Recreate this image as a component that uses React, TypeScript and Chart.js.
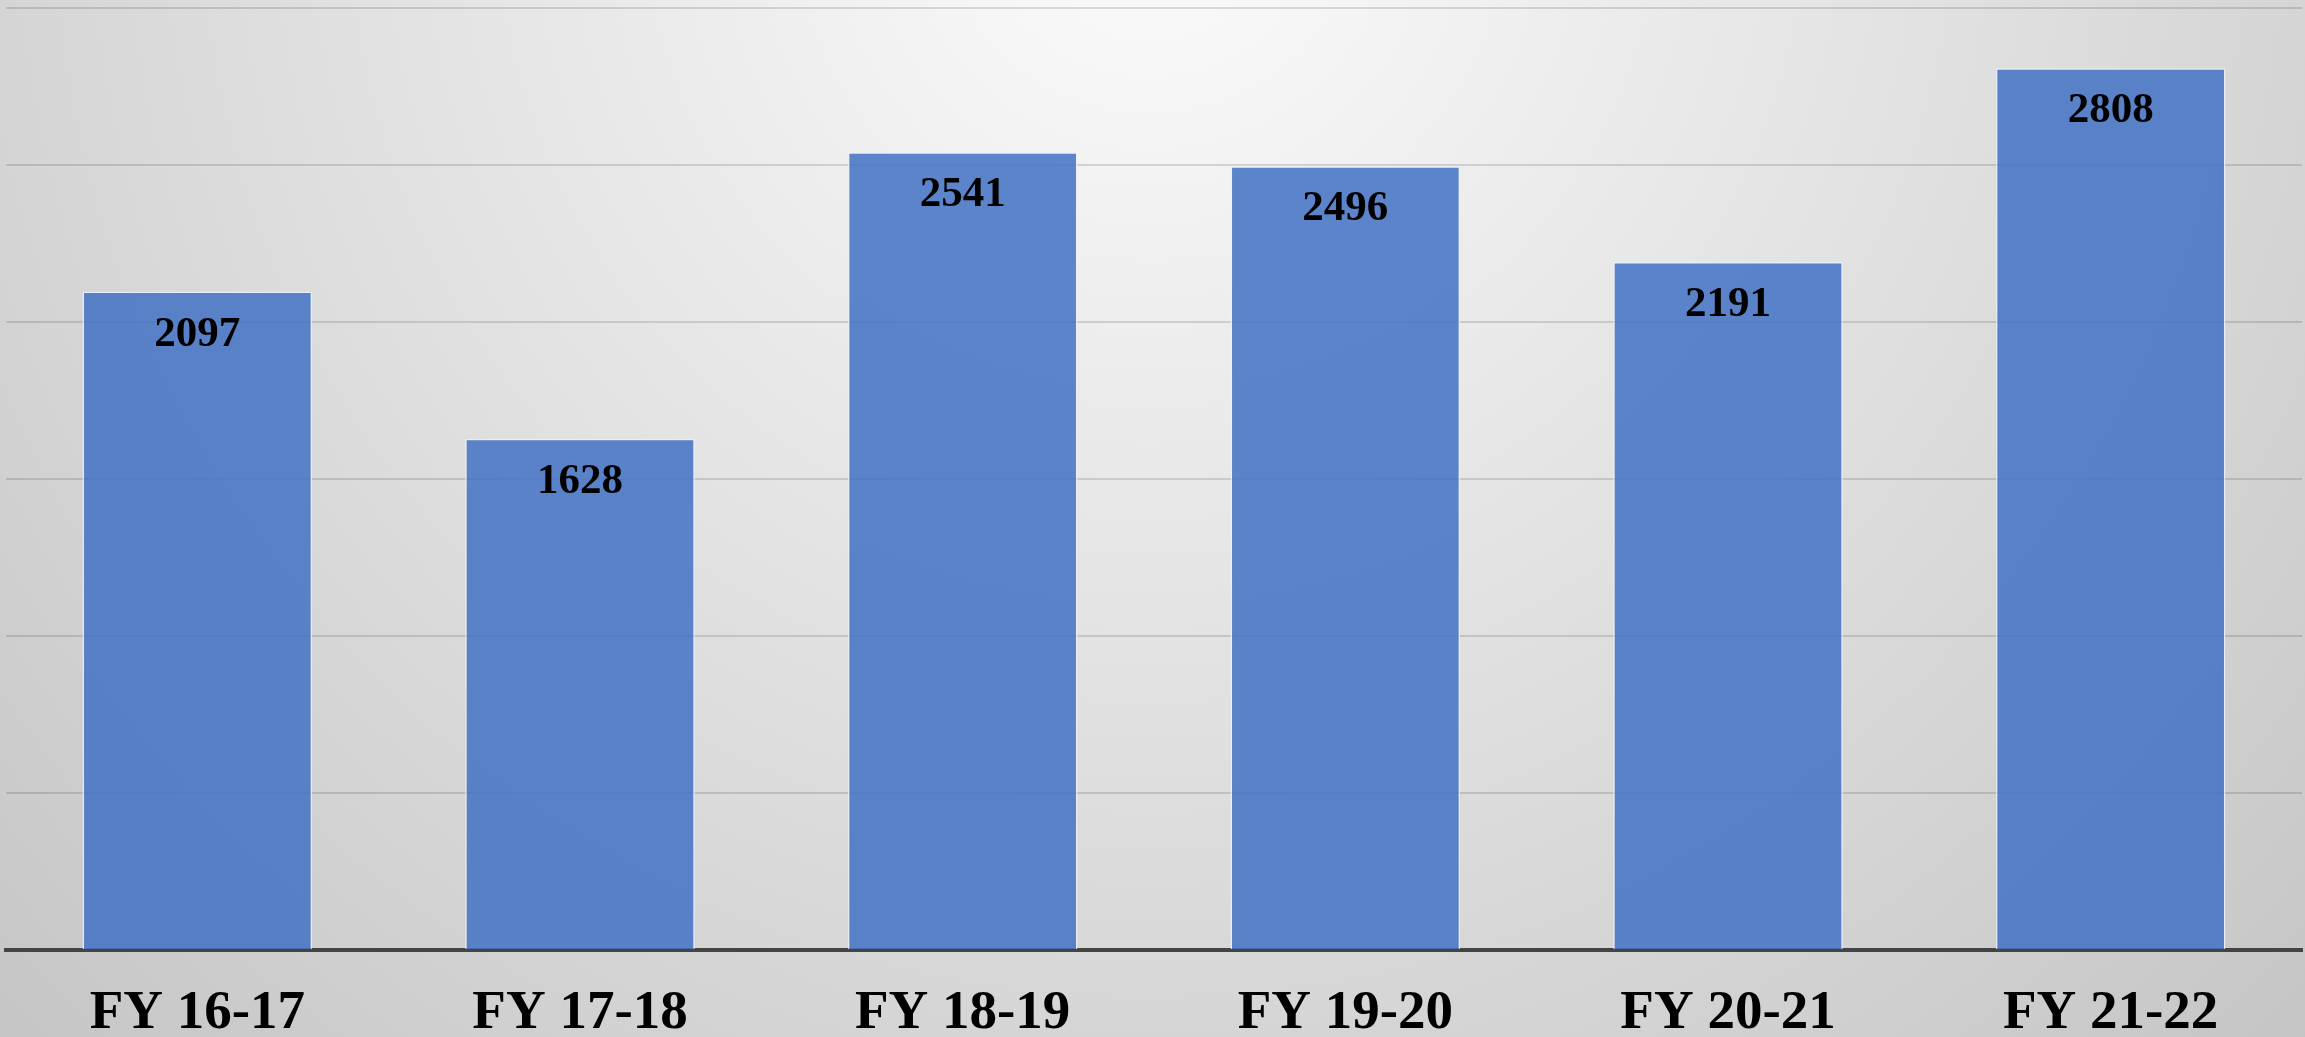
import React, { useEffect, useRef } from "react";
import { Chart, registerables } from "chart.js";

Chart.register(...registerables);

const categories = ["FY 16-17", "FY 17-18", "FY 18-19", "FY 19-20", "FY 20-21", "FY 21-22"];
const values = [2097, 1628, 2541, 2496, 2191, 2808];
const yMin = 0;
const yMax = 3000;
const yStep = 500;

const W = 2305;
const H = 1037;

const backgroundPlugin = {
  id: "bgGradient",
  beforeDraw(chart: any) {
    const ctx = chart.ctx as CanvasRenderingContext2D;
    const g = ctx.createRadialGradient(1150, -100, 0, 1150, -100, 1700);
    g.addColorStop(0, "#fcfcfc");
    g.addColorStop(0.676, "#d5d5d5");
    g.addColorStop(0.94, "#c6c6c6");
    g.addColorStop(1, "#c4c4c4");
    ctx.save();
    ctx.fillStyle = g;
    ctx.fillRect(0, 0, chart.width, chart.height);
    ctx.restore();
  },
};

const valueLabelPlugin = {
  id: "valueLabels",
  afterDatasetsDraw(chart: any) {
    const ctx = chart.ctx as CanvasRenderingContext2D;
    const meta = chart.getDatasetMeta(0);
    const data = chart.data.datasets[0].data as number[];
    ctx.save();
    ctx.font = "bold 43px 'Liberation Serif', 'Times New Roman', serif";
    ctx.fillStyle = "#000000";
    ctx.textAlign = "center";
    ctx.textBaseline = "alphabetic";
    meta.data.forEach((bar: any, i: number) => {
      ctx.fillText(String(data[i]), bar.x, bar.y + 54);
    });
    ctx.restore();
  },
};

export default function App() {
  const canvasRef = useRef<HTMLCanvasElement | null>(null);

  useEffect(() => {
    if (!canvasRef.current) return;
    const chart = new Chart(canvasRef.current, {
      type: "bar",
      data: {
        labels: categories,
        datasets: [
          {
            data: values,
            backgroundColor: "rgba(68,114,196,0.86)",
            borderColor: "rgba(235,240,250,0.85)",
            borderWidth: 1.5,
            categoryPercentage: 1,
            barPercentage: 0.6,
          },
        ],
      },
      options: {
        responsive: false,
        animation: false,
        devicePixelRatio: 1,
        layout: { padding: { left: 6, top: 8, right: 3, bottom: 0 } },
        plugins: {
          legend: { display: false },
          tooltip: { enabled: false },
          title: { display: false },
        },
        scales: {
          x: {
            grid: { display: false, drawTicks: false },
            border: { display: true, color: "#444444", width: 4 },
            ticks: {
              color: "#000000",
              padding: 40,
              font: {
                family: "'Liberation Serif', 'Times New Roman', serif",
                size: 55,
                weight: "bold",
                lineHeight: 0.857,
              },
            },
            afterFit(scale: any) {
              scale.height = 87;
            },
          },
          y: {
            min: yMin,
            max: yMax,
            ticks: { display: false, stepSize: yStep },
            border: { display: false },
            grid: { color: "rgba(0,0,0,0.13)", lineWidth: 2, drawTicks: false },
          },
        },
      },
      plugins: [backgroundPlugin, valueLabelPlugin],
    });
    return () => chart.destroy();
  }, []);

  return (
    <div style={{ position: "fixed", left: 0, top: 0, width: W, height: H }}>
      <canvas ref={canvasRef} width={W} height={H} style={{ display: "block" }} />
    </div>
  );
}
